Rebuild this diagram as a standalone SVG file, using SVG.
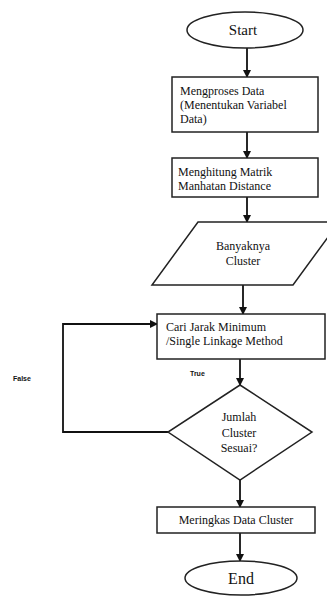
<svg xmlns="http://www.w3.org/2000/svg" width="327" height="601" viewBox="0 0 327 601">
<style>
.s{fill:#fff;stroke:#222;stroke-width:1.5}
.t{font-family:"Liberation Serif",serif;font-size:12px;fill:#111}
.c{text-anchor:middle}
.l{fill:none;stroke:#111;stroke-width:1.8}
.sm{font-family:"Liberation Sans",sans-serif;font-size:7px;font-weight:bold;fill:#111}
</style>
<defs>
<marker id="a" markerWidth="8" markerHeight="8" refX="7" refY="4" orient="auto" markerUnits="userSpaceOnUse">
<path d="M0,0 L8,4 L0,8 z" fill="#111"/>
</marker>
</defs>
<g id="connectors">
<line class="l" x1="247" y1="48" x2="247" y2="77" marker-end="url(#a)"/>
<line class="l" x1="247" y1="132" x2="247" y2="158" marker-end="url(#a)"/>
<line class="l" x1="247" y1="197" x2="247" y2="222" marker-end="url(#a)"/>
<line class="l" x1="243" y1="285" x2="243" y2="314" marker-end="url(#a)"/>
<line class="l" x1="240" y1="359" x2="240" y2="385" marker-end="url(#a)"/>
<polyline class="l" points="168,432 63,432 63,324 157,324" marker-end="url(#a)"/>
<line class="l" x1="240" y1="480" x2="240" y2="507" marker-end="url(#a)"/>
<line class="l" x1="240" y1="533" x2="240" y2="561" marker-end="url(#a)"/>
<text class="sm" x="190" y="376">True</text>
<text class="sm" x="13" y="381">False</text>
</g>
<g id="start">
<ellipse class="s" cx="245" cy="30" rx="58" ry="18"/>
<text class="t c" x="243" y="35" style="font-size:15px">Start</text>
</g>
<g id="proses">
<rect class="s" x="172" y="77" width="146" height="55"/>
<text class="t" x="180" y="95">Mengproses Data</text>
<text class="t" x="180" y="109">(Menentukan Variabel</text>
<text class="t" x="180" y="123">Data)</text>
</g>
<g id="hitung">
<rect class="s" x="172" y="158" width="146" height="39"/>
<text class="t" x="178" y="176">Menghitung Matrik</text>
<text class="t" x="178" y="190">Manhatan Distance</text>
</g>
<g id="banyak">
<polygon class="s" points="198,222 339,222 293,285 152,285"/>
<text class="t c" x="243" y="250">Banyaknya</text>
<text class="t c" x="243" y="265">Cluster</text>
</g>
<g id="cari">
<rect class="s" x="157" y="314" width="168" height="45"/>
<text class="t" x="166" y="331">Cari Jarak Minimum</text>
<text class="t" x="166" y="345">/Single Linkage Method</text>
</g>
<g id="jumlah">
<polygon class="s" points="240,385 312,432 240,480 168,432"/>
<text class="t c" x="239" y="421">Jumlah</text>
<text class="t c" x="239" y="437">Cluster</text>
<text class="t c" x="239" y="452">Sesuai?</text>
</g>
<g id="ringkas">
<rect class="s" x="157" y="507" width="158" height="26"/>
<text class="t c" x="236" y="524">Meringkas Data Cluster</text>
</g>
<g id="end">
<ellipse class="s" cx="241" cy="578" rx="56" ry="17"/>
<text class="t c" x="241" y="584" style="font-size:16px">End</text>
</g>
</svg>
